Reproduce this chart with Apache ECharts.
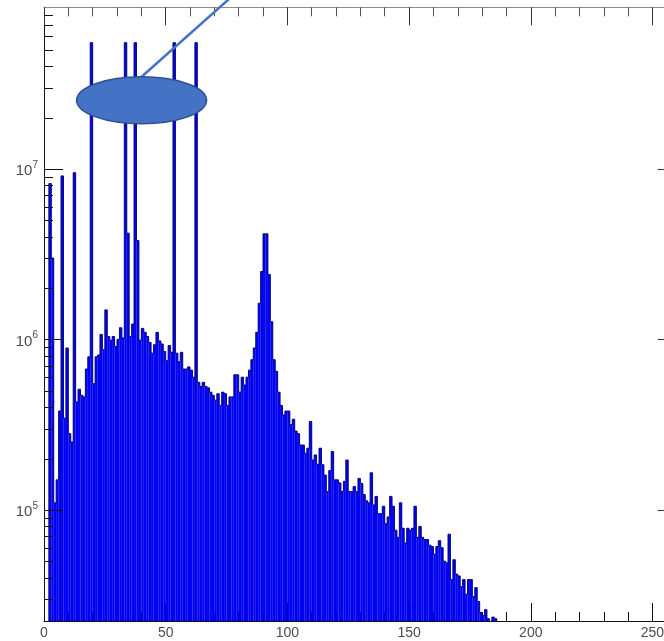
<!DOCTYPE html>
<html>
<head>
<meta charset="utf-8">
<script src="https://cdn.jsdelivr.net/npm/echarts@6/dist/echarts.min.js"></script>
<style>
  html, body { margin: 0; padding: 0; background: #fff; }
  #chart { width: 664px; height: 641px; }
</style>
</head>
<body>
<div id="chart"></div>
<script>
// histogram counts per unit-wide bin, starting at x = 0 (null = empty bin)
const counts = [
  null, null, 8.2e6, 3.0e6, 1.1e5, 1.5e5, 3.8e5, 9.1e6, 3.45e5, 8.9e5,
  2.8e5, 2.5e5, 9.5e6, 4.3e5, 5.1e5, 4.7e5, 4.6e5, 6.7e5, 7.9e5, 5.5e7,
  5.5e5, 7.9e5, 8.1e5, 1.07e6, 8.7e5, 1.49e6, 1.04e6, 9.9e5, 1.04e6, 9.1e5,
  1.0e6, 1.17e6, 1.02e6, 5.5e7, 4.2e6, 1.04e6, 1.23e6, 5.5e7, 3.8e6, 9.9e5,
  1.16e6, 1.1e6, 1.04e6, 9.6e5, 8.3e5, 9.3e5, 1.1e6, 9.8e5, 9.4e5, 8.5e5,
  7.5e5, 9.2e5, 8.4e5, 5.5e7, 8.3e5, 7.4e5, 8.4e5, 6.7e5, 6.7e5, 6.9e5,
  6.6e5, 6.0e5, 5.5e7, 5.6e5, 5.3e5, 5.6e5, 5.3e5, 5.2e5, 4.9e5, 4.7e5,
  4.4e5, 4.8e5, 4.1e5, 4.9e5, 4.8e5, 4.1e5, 4.6e5, 4.6e5, 6.2e5, 6.2e5,
  4.9e5, 6.0e5, 5.4e5, 6.0e5, 6.6e5, 7.6e5, 8.9e5, 1.1e6, 1.63e6, 2.5e6,
  4.16e6, 4.16e6, 2.4e6, 1.27e6, 7.6e5, 6.5e5, 4.9e5, 4.1e5, 3.6e5, 3.8e5,
  3.8e5, 3.16e5, 3.4e5, 2.9e5, 2.8e5, 2.4e5, 2.4e5, 2.15e5, 2.3e5, 3.3e5,
  1.96e5, 2.1e5, 1.85e5, 2.3e5, 1.84e5, 1.6e5, 1.28e5, 1.7e5, 2.2e5, 1.5e5,
  1.5e5, 1.44e5, 1.28e5, 1.47e5, 1.96e5, 1.28e5, 1.28e5, 1.37e5, 1.28e5, 1.53e5,
  1.43e5, 1.23e5, 1.13e5, 1.1e5, 1.65e5, 1.07e5, 1.2e5, 9.5e4, 9.5e4, 1.05e5,
  8.3e4, 9.1e4, 1.2e5, 1.05e5, 7.6e4, 6.9e4, 1.1e5, 7.8e4, 6.4e4, 7.8e4,
  7.6e4, 7.8e4, 1.05e5, 6.9e4, 8.0e4, 6.9e4, 6.7e4, 6.7e4, 6.2e4, 6.1e4,
  5.5e4, 6.1e4, 6.6e4, 6.0e4, 5.0e4, 4.9e4, 7.2e4, 3.9e4, 5.1e4, 4.2e4,
  4.1e4, 3.55e4, 3.9e4, 3.2e4, 3.9e4, 3.9e4, 3.1e4, 3.5e4, 2.9e4, 2.5e4,
  2.4e4, 2.6e4, 2.3e4, null, 2.35e4, 2.3e4
];
const binWidth = 1;

// axis ranges and ticks
const xMin = 0, xMax = 260, xStep = 50;
const yMin = 2.23e4, yMax = 8.87e7;
const yMajor = [1e5, 1e6, 1e7];
const yMinor = [3e4, 4e4, 5e4, 6e4, 7e4, 8e4, 9e4,
                2e5, 3e5, 4e5, 5e5, 6e5, 7e5, 8e5, 9e5,
                2e6, 3e6, 4e6, 5e6, 6e6, 7e6, 8e6, 9e6,
                2e7, 3e7, 4e7, 5e7, 6e7, 7e7, 8e7];

// callout drawn over the chart (data coordinates)
const calloutCenter = [40.1, 2.53e7];
const calloutLeftRight = [13.4, 66.8];
const calloutTopBottom = [3.47e7, 1.84e7];
const calloutLineEnd = [78.9, 1.08e8];

const chart = echarts.init(document.getElementById('chart'));

const labelColor = '#4d4d4d';
const font = 'Liberation Sans, Arial, sans-serif';
const barFill = '#0000ff';
const edgeColor = '#00006a';

const histData = counts.map((v, i) => [i * binWidth, v, i]).filter(d => d[1] != null);
const tickData = yMajor.map(v => [v, 19]).concat(yMinor.map(v => [v, 9]));

const option = {
  animation: false,
  backgroundColor: '#fff',
  // plot frame runs past the right edge of the window (x = 260 is off-screen)
  grid: { left: 44, top: 7.3, width: 632.8, height: 613.7, outerBoundsMode: 'none', containLabel: false },
  xAxis: [{
    type: 'value', min: xMin, max: xMax, interval: xStep,
    axisLine: { lineStyle: { color: '#111', width: 1 } },
    axisTick: { inside: true, length: 18, lineStyle: { color: '#111' } },
    minorTick: { show: true, splitNumber: 5, length: 9, lineStyle: { color: '#111' } },
    splitLine: { show: false },
    axisLabel: { color: labelColor, fontSize: 14, fontFamily: font, margin: 5, showMaxLabel: false }
  }, {
    type: 'value', position: 'top', min: xMin, max: xMax, interval: xStep,
    axisLine: { lineStyle: { color: '#8c8c8c', width: 1 } },
    axisTick: { inside: true, length: 18, lineStyle: { color: '#333' } },
    minorTick: { show: true, splitNumber: 5, length: 9, lineStyle: { color: '#555' } },
    splitLine: { show: false },
    axisLabel: { show: false }
  }],
  yAxis: [{
    type: 'log', logBase: 10, min: yMin, max: yMax,
    axisLine: { show: true, lineStyle: { color: '#111', width: 1 } },
    axisTick: { show: false },
    splitLine: { show: false },
    axisLabel: {
      margin: 6, fontFamily: font,
      showMinLabel: false, showMaxLabel: false,
      formatter: v => {
        const e = Math.round(Math.log10(v));
        return Math.abs(Math.log10(v) - e) < 1e-6 ? '{b|10}{s|' + e + '}' : '';
      },
      rich: {
        b: { fontSize: 15, color: labelColor, fontFamily: font, lineHeight: 18, padding: [4, 0, 0, 0] },
        s: { fontSize: 10, color: labelColor, fontFamily: font, verticalAlign: 'top' }
      }
    }
  }, {
    type: 'log', logBase: 10, min: yMin, max: yMax, position: 'right',
    axisLine: { show: false }, axisTick: { show: false },
    splitLine: { show: false }, axisLabel: { show: false }
  }],
  series: [{
    // histogram bins: blue fill, faint bin edges, dark step outline
    type: 'custom',
    coordinateSystem: 'cartesian2d',
    clip: true,
    data: histData,
    renderItem: (params, api) => {
      const x0 = api.value(0), v = api.value(1), i = api.value(2);
      const p0 = api.coord([x0, yMin]);
      const p1 = api.coord([x0 + binWidth, v]);
      const prev = counts[i - 1] != null ? counts[i - 1] : yMin;
      const next = counts[i + 1] != null ? counts[i + 1] : yMin;
      const yl = api.coord([x0, Math.min(prev, v)])[1];
      const yr = api.coord([x0, Math.min(next, v)])[1];
      return {
        type: 'group',
        children: [
          { type: 'rect',
            shape: { x: p0[0], y: p1[1], width: p1[0] - p0[0], height: p0[1] - p1[1] },
            style: { fill: barFill, stroke: 'rgba(0,0,80,0.25)', lineWidth: 0.5 } },
          { type: 'polyline',
            shape: { points: [[p0[0], yl], [p0[0], p1[1]], [p1[0], p1[1]], [p1[0], yr]] },
            style: { fill: null, stroke: edgeColor, lineWidth: 0.9 } }
        ]
      };
    }
  }, {
    // y ticks on the left and right frame (log minor ticks at 2..9)
    type: 'custom',
    coordinateSystem: 'cartesian2d',
    data: tickData,
    silent: true,
    z: 5,
    renderItem: (params, api) => {
      const v = api.value(0), len = api.value(1);
      const l = api.coord([xMin, v]);
      const r = api.coord([xMax, v]);
      const y = Math.round(l[1]) + 0.5;
      return {
        type: 'group',
        children: [
          { type: 'line', shape: { x1: l[0], y1: y, x2: l[0] + len, y2: y }, style: { stroke: '#111', lineWidth: 1 } },
          { type: 'line', shape: { x1: r[0] - len, y1: y, x2: r[0], y2: y }, style: { stroke: '#333', lineWidth: 1 } }
        ]
      };
    }
  }, {
    // callout ellipse and pointer line
    type: 'custom',
    coordinateSystem: 'cartesian2d',
    data: [calloutCenter],
    silent: true,
    z: 10,
    renderItem: (params, api) => {
      const c = api.coord(calloutCenter);
      const lx = api.coord([calloutLeftRight[0], calloutCenter[1]])[0];
      const rx = api.coord([calloutLeftRight[1], calloutCenter[1]])[0];
      const ty = api.coord([calloutCenter[0], calloutTopBottom[0]])[1];
      const by = api.coord([calloutCenter[0], calloutTopBottom[1]])[1];
      const e = api.coord(calloutLineEnd);
      return {
        type: 'group',
        children: [
          { type: 'line', shape: { x1: c[0], y1: ty, x2: e[0], y2: e[1] },
            style: { stroke: '#4472c4', lineWidth: 2.5 } },
          { type: 'ellipse', shape: { cx: c[0], cy: (ty + by) / 2, rx: (rx - lx) / 2, ry: (by - ty) / 2 },
            style: { fill: '#4472c4', stroke: '#2f528f', lineWidth: 1.5 } }
        ]
      };
    }
  }]
};

chart.setOption(option);
</script>
</body>
</html>
